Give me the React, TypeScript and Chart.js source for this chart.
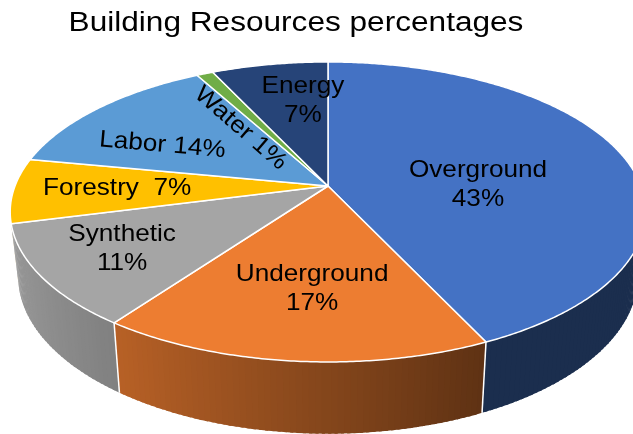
import React, { useEffect, useRef } from 'react';
import { Chart, registerables } from 'chart.js';

Chart.register(...registerables);

// ---- data ----
const TITLE = 'Building Resources percentages';
const CATEGORIES = ['Overground', 'Underground', 'Synthetic', 'Forestry', 'Labor', 'Water', 'Energy'];
const VALUES = [43, 17, 11, 7, 14, 1, 7];

// ---- styles ----
const TOP_COLORS = ['#4472C4', '#ED7D31', '#A5A5A5', '#FFC000', '#5B9BD5', '#70AD47', '#264478'];
const LABEL_ANGLE_SHIFT = [11.6, -1.3, 0.8, 0.4, -8, -8.2, 4.8];
const LABEL_RADIUS = [0.48, 0.633, 0.733, 0.672, 0.63, 0.52, 0.656];
const LABEL_ROTATION = [0, 0, 0, 0, 5, 41, 0];
const LABEL_SEPARATOR = ['\n', '\n', '\n', '  ', ' ', ' ', '\n'];

const FONT = '"Liberation Sans", Arial, sans-serif';
const CX = 328;
const CY = 186;
const RX = 313;
const RY = 145.5;
const K = 0.173;
const DEPTH = 63;
const SHRINK = 0.975;

function proj(theta: number, r: number, z: number) {
  const u = r * Math.cos(theta);
  const v = r * Math.sin(theta);
  const w = 1 / (1 - K * v);
  const x = RX * u * w;
  const y = RY * v * w;
  if (z === 0) return { x: CX + x, y: CY + y };
  return { x: CX + x * SHRINK, y: CY + y * SHRINK + DEPTH * w };
}

function hexToRgb(h: string) {
  const n = parseInt(h.slice(1), 16);
  return [(n >> 16) & 255, (n >> 8) & 255, n & 255];
}

function shade(hex: string, theta: number) {
  const f = Math.min(1, Math.max(0.4, 0.558 + 0.373 * Math.cos(theta - Math.PI)));
  const [r, g, b] = hexToRgb(hex);
  return `rgb(${Math.round(r * f)},${Math.round(g * f)},${Math.round(b * f)})`;
}

const pie3d = {
  id: 'pie3d',
  beforeDatasetsDraw(chart: any) {
    const ctx: CanvasRenderingContext2D = chart.ctx;
    const meta = chart.getDatasetMeta(0);
    const arcs = meta.data.map((el: any) => el.getProps(['startAngle', 'endAngle'], true));
    ctx.save();
    const step = Math.PI / 180;
    const overlap = step * 0.5;
    const strips: any[] = [];
    arcs.forEach((a: any, i: number) => {
      const n = Math.max(1, Math.ceil((a.endAngle - a.startAngle) / step));
      const d = (a.endAngle - a.startAngle) / n;
      for (let j = 0; j < n; j++) {
        const ta = a.startAngle + j * d;
        const tb = Math.min(a.endAngle, ta + d + overlap);
        strips.push({ i, ta, tb, mid: ta + d / 2 });
      }
    });
    strips.sort((p, q) => Math.sin(p.mid) - Math.sin(q.mid));
    strips.forEach((s) => {
      const p1 = proj(s.ta, 1, 0);
      const p2 = proj(s.tb, 1, 0);
      const p3 = proj(s.tb, 1, 1);
      const p4 = proj(s.ta, 1, 1);
      const pts = [p1, p2, p3, p4];
      let area = 0;
      for (let k = 0; k < 4; k++) {
        const a = pts[k];
        const b = pts[(k + 1) % 4];
        area += a.x * b.y - b.x * a.y;
      }
      if (area >= 0) return; // back-facing
      ctx.beginPath();
      ctx.moveTo(p1.x, p1.y);
      ctx.lineTo(p2.x, p2.y);
      ctx.lineTo(p3.x, p3.y);
      ctx.lineTo(p4.x, p4.y);
      ctx.closePath();
      ctx.fillStyle = shade(TOP_COLORS[s.i], s.mid);
      ctx.fill();
    });
    // white edges at slice boundaries on the side
    ctx.strokeStyle = '#ffffff';
    ctx.lineWidth = 1.5;
    arcs.forEach((a: any) => {
      const t = a.startAngle;
      if (Math.sin(t) > 0.3) {
        const p = proj(t, 1, 0);
        const q = proj(t, 1, 1);
        ctx.beginPath();
        ctx.moveTo(p.x, p.y);
        ctx.lineTo(q.x, q.y);
        ctx.stroke();
      }
    });
    // top faces
    arcs.forEach((a: any, i: number) => {
      const c = proj(0, 0, 0);
      ctx.beginPath();
      ctx.moveTo(c.x, c.y);
      const n = Math.max(2, Math.ceil((a.endAngle - a.startAngle) / (step / 2)));
      for (let j = 0; j <= n; j++) {
        const t = a.startAngle + ((a.endAngle - a.startAngle) * j) / n;
        const p = proj(t, 1, 0);
        ctx.lineTo(p.x, p.y);
      }
      ctx.closePath();
      ctx.fillStyle = TOP_COLORS[i];
      ctx.fill();
      ctx.strokeStyle = '#ffffff';
      ctx.lineWidth = 1.5;
      ctx.lineJoin = 'round';
      ctx.stroke();
    });
    ctx.restore();
    return false;
  },
  afterDraw(chart: any) {
    const ctx: CanvasRenderingContext2D = chart.ctx;
    const meta = chart.getDatasetMeta(0);
    const total = VALUES.reduce((s, v) => s + v, 0);
    ctx.save();
    // title
    ctx.fillStyle = '#000000';
    ctx.font = `27px ${FONT}`;
    ctx.textAlign = 'center';
    ctx.textBaseline = 'alphabetic';
    ctx.save();
    ctx.translate(296, 31);
    ctx.scale(1.17, 1);
    ctx.fillText(TITLE, 0, 0);
    ctx.restore();
    // labels
    ctx.font = `24px ${FONT}`;
    ctx.textBaseline = 'middle';
    meta.data.forEach((el: any, i: number) => {
      const a = el.getProps(['startAngle', 'endAngle'], true);
      const mid = (a.startAngle + a.endAngle) / 2 + (LABEL_ANGLE_SHIFT[i] * Math.PI) / 180;
      const p = proj(mid, LABEL_RADIUS[i], 0);
      const pct = Math.round((VALUES[i] / total) * 100);
      const lines = (CATEGORIES[i] + LABEL_SEPARATOR[i] + pct + '%').split('\n');
      const lh = 29;
      ctx.save();
      ctx.translate(p.x, p.y);
      ctx.rotate((LABEL_ROTATION[i] * Math.PI) / 180);
      ctx.scale(1.09, 1);
      lines.forEach((ln, j) => {
        ctx.fillText(ln, 0, (j - (lines.length - 1) / 2) * lh);
      });
      ctx.restore();
    });
    ctx.restore();
  },
};

export default function App() {
  const ref = useRef<HTMLCanvasElement | null>(null);
  useEffect(() => {
    if (!ref.current) return;
    const chart = new Chart(ref.current, {
      type: 'pie',
      data: {
        labels: CATEGORIES,
        datasets: [{ data: VALUES, backgroundColor: TOP_COLORS, borderColor: '#ffffff', borderWidth: 1.5 }],
      },
      options: {
        animation: false,
        responsive: true,
        maintainAspectRatio: false,
        events: [],
        plugins: {
          legend: { display: false },
          tooltip: { enabled: false },
          title: { display: false },
        },
      },
      plugins: [pie3d],
    });
    return () => chart.destroy();
  }, []);
  return (
    <div style={{ position: 'fixed', left: 0, top: 0, width: 633, height: 434, background: '#ffffff' }}>
      <canvas ref={ref} />
    </div>
  );
}
